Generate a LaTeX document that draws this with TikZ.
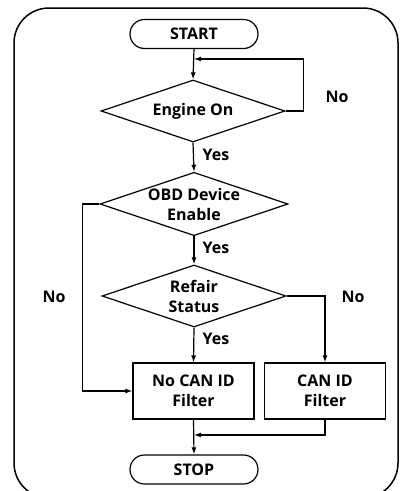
\documentclass[tikz,border=0pt]{standalone}
\usepackage{fontspec}
\setmainfont{Open Sans}
\usetikzlibrary{shapes.geometric,shapes.misc,arrows.meta}
\begin{document}
\begin{tikzpicture}[x=1pt,y=-1pt,
  every node/.style={font=\fontsize{16}{20}\selectfont\bfseries},
  term/.style={draw,line width=1.2pt,rounded rectangle,minimum width=128pt,minimum height=29pt,inner sep=0pt},
  dec/.style={draw,line width=1.2pt,diamond,aspect=2.97,minimum width=184pt,minimum height=62pt,inner sep=0pt,align=center},
  proc/.style={draw,line width=1.2pt,minimum width=121pt,minimum height=56pt,inner sep=0pt,align=center},
  lbl/.style={inner sep=0pt},
  arr/.style={line width=1.2pt,-{Latex[length=7pt,width=5pt]}},
  ln/.style={line width=1.2pt}]
\useasboundingbox (0,0) rectangle (401,491);
\begin{scope}
\clip (0,0) rectangle (401,491);
\draw[line width=1.5pt,rounded corners=35pt] (14,8) rectangle (398,498);
\end{scope}
\node[term] (start) at (194,34) {START};
\node[dec] (d1) at (193,111) {Engine On};
\node[dec] (d2) at (194,204) {OBD Device\\Enable};
\node[dec] (d3) at (194,296) {Refair\\Status};
\node[proc] (b1) at (193.5,391) {No CAN ID\\Filter};
\node[proc] (b2) at (325,391) {CAN ID\\Filter};
\node[term] (stop) at (194,469.5) {STOP};
\coordinate (j1) at (194,59);
\coordinate (j2) at (194,435);
\node[lbl] (no1) at (337,97) {No};
\node[lbl] (yes1) at (216,155) {Yes};
\node[lbl] (yes2) at (216,248) {Yes};
\node[lbl] (yes3) at (216,339) {Yes};
\node[lbl] (no2) at (54,297) {No};
\node[lbl] (no3) at (353,297) {No};
\draw[arr] (start.south) -- (d1.north);
\draw[arr] (d1.east) -- ++(18,0) |- (j1);
\draw[arr] (d1.south) -- (d2.north);
\draw[arr] (d2.south) -- (d3.north);
\draw[arr] (d3.south) -- (b1.north);
\draw[arr] (d2.west) -- ++(-17,0) |- (b1.west);
\draw[arr] (d3.east) -| (b2.north);
\draw[arr] (b1.south) -- (stop.north);
\draw[arr] (b2.south) |- (j2);
\end{tikzpicture}
\end{document}
